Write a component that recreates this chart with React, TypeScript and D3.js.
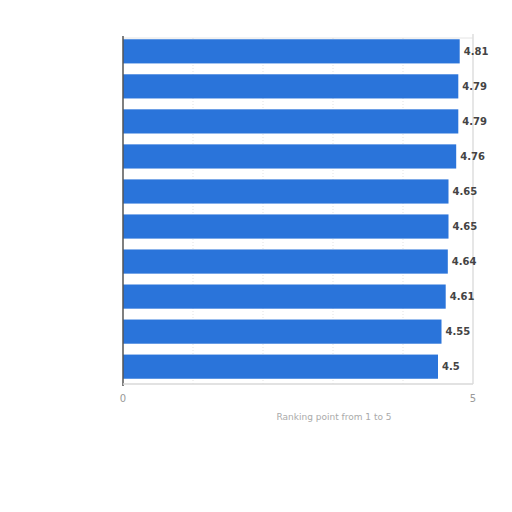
import { useRef, useEffect } from 'react';
import * as d3 from 'd3';

const categories = ['A', 'B', 'C', 'D', 'E', 'F', 'G', 'H', 'I', 'J'];
const values = [4.81, 4.79, 4.79, 4.76, 4.65, 4.65, 4.64, 4.61, 4.55, 4.5];
const tickValues = [0, 5];
const axisTitle = 'Ranking point from 1 to 5';

const BAR = '#2a74da';

const Chart = () => {
  const svgRef = useRef<SVGSVGElement>(null);
  const width = 512;
  const height = 512;
  const margin = { top: 34, left: 123, right: 39, bottom: 128 };

  useEffect(() => {
    const svg = d3.select(svgRef.current);
    svg.selectAll('*').remove();

    const innerW = width - margin.left - margin.right;
    const innerH = height - margin.top - margin.bottom;
    const g = svg.append('g').attr('transform', `translate(${margin.left},${margin.top})`);

    const x = d3.scaleLinear().domain([0, 5]).range([0, innerW]);
    const y = d3.scaleBand().domain(categories).range([0, innerH]).paddingInner(0.31).paddingOuter(0.15);

    // frame
    g.append('line').attr('x1', 0).attr('x2', innerW).attr('y1', 4).attr('y2', 4)
      .attr('stroke', '#e4e4e4').attr('stroke-width', 1);
    g.append('line').attr('x1', innerW).attr('x2', innerW).attr('y1', 0).attr('y2', innerH)
      .attr('stroke', '#dedede').attr('stroke-width', 1.5);

    // grid lines
    g.selectAll('.grid')
      .data([1, 2, 3, 4])
      .join('line')
      .attr('class', 'grid')
      .attr('x1', d => x(d)).attr('x2', d => x(d))
      .attr('y1', 4).attr('y2', innerH)
      .attr('stroke', '#d0d0d0')
      .attr('stroke-width', 0.6)
      .attr('stroke-dasharray', '1,2');

    g.selectAll('.bar')
      .data(values)
      .join('rect')
      .attr('class', 'bar')
      .attr('x', 0)
      .attr('y', (_d, i) => y(categories[i]) || 0)
      .attr('width', d => x(d))
      .attr('height', y.bandwidth())
      .attr('fill', BAR);

    g.selectAll('.val')
      .data(values)
      .join('text')
      .attr('class', 'val')
      .attr('x', d => x(d) + 4)
      .attr('y', (_d, i) => (y(categories[i]) || 0) + y.bandwidth() / 2)
      .attr('dy', '0.35em')
      .attr('font-family', '"DejaVu Sans", sans-serif')
      .attr('font-size', 10)
      .attr('font-weight', 'bold')
      .attr('fill', '#444')
      .text(d => String(d));

    // left axis line
    g.append('line').attr('x1', 0).attr('x2', 0).attr('y1', 2).attr('y2', innerH + 2)
      .attr('stroke', '#555').attr('stroke-width', 1.5);
    g.append('line').attr('x1', 0).attr('x2', innerW).attr('y1', innerH).attr('y2', innerH)
      .attr('stroke', '#d8d8d8').attr('stroke-width', 1.5);

    g.selectAll('.tick')
      .data(tickValues)
      .join('text')
      .attr('class', 'tick')
      .attr('x', d => x(d))
      .attr('y', innerH + 18)
      .attr('text-anchor', 'middle')
      .attr('font-family', '"DejaVu Sans", sans-serif')
      .attr('font-size', 10)
      .attr('fill', '#999')
      .text(d => String(d));

    g.append('text')
      .attr('x', 211)
      .attr('y', innerH + 36)
      .attr('text-anchor', 'middle')
      .attr('font-family', '"DejaVu Sans", sans-serif')
      .attr('font-size', 9)
      .attr('fill', '#aaa')
      .text(axisTitle);
  }, []);

  return <svg ref={svgRef} width={width} height={height} style={{ display: 'block' }} />;
};

export default function App() {
  return (
    <div style={{ position: 'absolute', left: 0, top: 0, background: '#fff' }}>
      <Chart />
    </div>
  );
}
